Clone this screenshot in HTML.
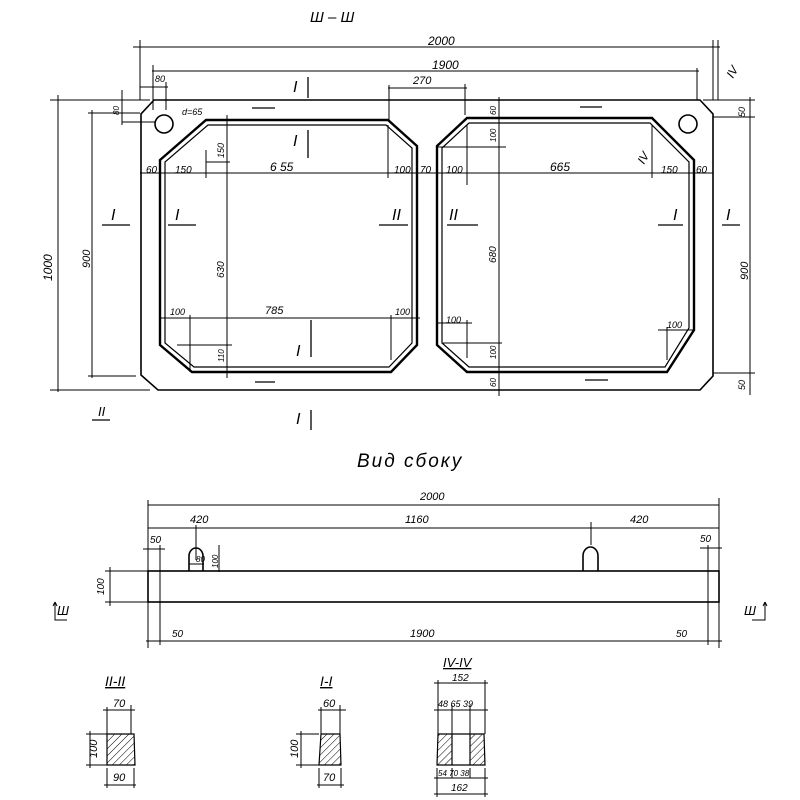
<!DOCTYPE html>
<html><head><meta charset="utf-8"><style>
html,body{margin:0;padding:0;background:#fff}
svg{display:block}
text{font-family:"Liberation Sans",sans-serif;font-style:italic;fill:#000}
</style></head><body>
<svg width="800" height="800" viewBox="0 0 800 800" xmlns="http://www.w3.org/2000/svg">
<defs>
<pattern id="h" width="5" height="5" patternUnits="userSpaceOnUse" patternTransform="rotate(45)">
<line x1="0" y1="0" x2="0" y2="5" stroke="#000" stroke-width="1"/></pattern>
</defs>
<g stroke="#000" fill="none" stroke-width="1.6">
<!-- outer plan -->
<path d="M154,100 L700,100 L713,114 L713,376 L700,390 L158,390 L141,375 L141,114 Z"/>
<!-- left window -->
<path d="M206,120 L388,120 L417,146 L417,345 L391,372 L192,372 L160,345 L160,160 Z" stroke-width="2.4"/>
<path d="M208,125 L386,125 L412,148 L412,343 L389,367 L194,367 L165,343 L165,162 Z" stroke-width="1.2"/>
<!-- right window -->
<path d="M467,118 L652,118 L694,160 L694,330 L667,372 L467,372 L437,345 L437,146 Z" stroke-width="2.4"/>
<path d="M469,123 L650,123 L689,162 L689,328 L665,367 L469,367 L442,343 L442,148 Z" stroke-width="1.2"/>
<circle cx="164" cy="124" r="9"/>
<circle cx="688" cy="124" r="9"/>
</g>
<g stroke="#000" fill="none" stroke-width="1">
<!-- top dims -->
<line x1="133" y1="47" x2="720" y2="47"/><line x1="140" y1="40" x2="140" y2="100"/><line x1="713" y1="40" x2="713" y2="100"/>
<line x1="152" y1="71" x2="699" y2="71"/><line x1="153" y1="65" x2="153" y2="110"/><line x1="697" y1="68" x2="697" y2="100"/>
<line x1="388" y1="88" x2="467" y2="88"/><line x1="389" y1="85" x2="389" y2="120"/><line x1="465" y1="84" x2="465" y2="115"/>
<line x1="140" y1="87" x2="168" y2="87"/><line x1="166" y1="82" x2="166" y2="110"/>
<!-- left dims -->
<line x1="50" y1="100" x2="150" y2="100"/><line x1="58" y1="95" x2="58" y2="392"/><line x1="50" y1="390" x2="150" y2="390"/>
<line x1="88" y1="113" x2="136" y2="113"/><line x1="92" y1="110" x2="92" y2="378"/><line x1="88" y1="376" x2="136" y2="376"/>
<line x1="122" y1="90" x2="122" y2="125"/><line x1="120" y1="113" x2="140" y2="113"/><line x1="122" y1="122" x2="155" y2="122"/>
<!-- right dims -->
<line x1="718" y1="40" x2="718" y2="100"/>
<line x1="713" y1="117" x2="755" y2="117"/><line x1="750" y1="97" x2="750" y2="395"/><line x1="713" y1="373" x2="755" y2="373"/><line x1="703" y1="100" x2="755" y2="100"/>
<!-- 173 horizontal -->
<line x1="140" y1="173" x2="713" y2="173"/>
<line x1="206" y1="150" x2="206" y2="178"/><line x1="227" y1="115" x2="227" y2="378"/><line x1="388" y1="125" x2="388" y2="178"/>
<line x1="467" y1="125" x2="467" y2="185"/><line x1="499" y1="97" x2="499" y2="396"/><line x1="652" y1="125" x2="652" y2="178"/>
<line x1="206" y1="162" x2="230" y2="162"/><line x1="438" y1="147" x2="506" y2="147"/>
<!-- 785 -->
<line x1="160" y1="318" x2="420" y2="318"/><line x1="190" y1="315" x2="190" y2="372"/><line x1="391" y1="315" x2="391" y2="360"/>
<line x1="177" y1="345" x2="232" y2="345"/>
<line x1="437" y1="323" x2="472" y2="323"/><line x1="467" y1="320" x2="467" y2="358"/><line x1="443" y1="343" x2="502" y2="343"/>
<line x1="658" y1="330" x2="695" y2="330"/><line x1="667" y1="327" x2="667" y2="360"/>
</g>
<!-- section marks -->
<g stroke="#000" stroke-width="1.3">
<line x1="102" y1="225" x2="130" y2="225"/><line x1="168" y1="225" x2="196" y2="225"/>
<line x1="379" y1="225" x2="408" y2="225"/><line x1="447" y1="225" x2="478" y2="225"/>
<line x1="658" y1="225" x2="683" y2="225"/><line x1="722" y1="225" x2="740" y2="225"/>
<line x1="308" y1="77" x2="308" y2="98"/><line x1="308" y1="130" x2="308" y2="158"/>
<line x1="311" y1="320" x2="311" y2="357"/><line x1="311" y1="410" x2="311" y2="430"/>
<line x1="252" y1="108" x2="275" y2="108"/><line x1="255" y1="382" x2="275" y2="382"/>
<line x1="580" y1="107" x2="602" y2="107"/><line x1="585" y1="380" x2="608" y2="380"/>
<line x1="92" y1="420" x2="110" y2="420"/>
</g>
<g font-size="12">
<text x="310" y="22" font-style="normal" font-family="Liberation Serif" font-size="15">Ш – Ш</text>
<text x="428" y="45">2000</text>
<text x="432" y="69">1900</text>
<text x="413" y="84" font-size="11">270</text>
<text x="155" y="82" font-size="9">80</text>
<text x="182" y="115" font-size="9">d=65</text>
<text x="146" y="173" font-size="10">60</text><text x="175" y="173" font-size="10">150</text>
<text x="270" y="171">6 55</text><text x="394" y="173" font-size="10">100</text><text x="420" y="173" font-size="10">70</text>
<text x="446" y="173" font-size="10">100</text><text x="550" y="171">665</text>
<text x="661" y="173" font-size="10">150</text><text x="696" y="173" font-size="10">60</text>
<text x="265" y="314" font-size="11">785</text>
<text x="170" y="315" font-size="9">100</text><text x="395" y="315" font-size="9">100</text>
<text x="446" y="323" font-size="9">100</text><text x="667" y="328" font-size="9">100</text>
<text x="293" y="92" font-family="Liberation Serif" font-style="normal" font-size="16">I</text>
<text x="293" y="146" font-family="Liberation Serif" font-style="normal" font-size="16">I</text>
<text x="296" y="356" font-family="Liberation Serif" font-style="normal" font-size="16">I</text>
<text x="296" y="424" font-family="Liberation Serif" font-style="normal" font-size="16">I</text>
<text x="111" y="220" font-family="Liberation Serif" font-style="normal" font-size="16">I</text>
<text x="175" y="220" font-family="Liberation Serif" font-style="normal" font-size="16">I</text>
<text x="392" y="220" font-family="Liberation Serif" font-style="normal" font-size="16">II</text>
<text x="449" y="220" font-family="Liberation Serif" font-style="normal" font-size="16">II</text>
<text x="673" y="220" font-family="Liberation Serif" font-style="normal" font-size="16">I</text>
<text x="726" y="220" font-family="Liberation Serif" font-style="normal" font-size="16">I</text>
<text x="98" y="416" font-family="Liberation Serif" font-style="normal" font-size="13">II</text>
<text transform="translate(52,265) rotate(-90)" x="-16" y="0">1000</text>
<text transform="translate(90,258) rotate(-90)" x="-10" y="0" font-size="11">900</text>
<text transform="translate(748,270) rotate(-90)" x="-10" y="0" font-size="11">900</text>
<text transform="translate(119,110) rotate(-90)" x="-5" y="0" font-size="8">80</text>
<text transform="translate(745,112) rotate(-90)" x="-5" y="0" font-size="9">50</text>
<text transform="translate(745,385) rotate(-90)" x="-5" y="0" font-size="9">50</text>
<text transform="translate(224,150) rotate(-90)" x="-8" y="0" font-size="9">150</text>
<text transform="translate(224,270) rotate(-90)" x="-8" y="0" font-size="10">630</text>
<text transform="translate(224,355) rotate(-90)" x="-7" y="0" font-size="8">110</text>
<text transform="translate(496,255) rotate(-90)" x="-8" y="0" font-size="10">680</text>
<text transform="translate(496,110) rotate(-90)" x="-5" y="0" font-size="8">60</text>
<text transform="translate(496,135) rotate(-90)" x="-7" y="0" font-size="8">100</text>
<text transform="translate(496,352) rotate(-90)" x="-7" y="0" font-size="8">100</text>
<text transform="translate(496,382) rotate(-90)" x="-5" y="0" font-size="8">60</text>
<text transform="translate(737,72) rotate(-60)" x="-8" y="0" font-family="Liberation Serif" font-style="normal" font-size="12">IV</text>
<text transform="translate(648,158) rotate(-60)" x="-8" y="0" font-family="Liberation Serif" font-style="normal" font-size="12">IV</text>
<text x="357" y="467" font-size="19" letter-spacing="2">Вид сбоку</text>
</g>
<!-- side view -->
<g stroke="#000" fill="none" stroke-width="1.6">
<rect x="148" y="571" width="571" height="31"/>
<path d="M189,571 L189,556 A7,8 0 0 1 203,556 L203,571"/>
<path d="M583,571 L583,556 A7.5,9 0 0 1 598,556 L598,571"/>
</g>
<g stroke="#000" fill="none" stroke-width="1">
<line x1="148" y1="505" x2="719" y2="505"/><line x1="148" y1="500" x2="148" y2="648"/><line x1="719" y1="498" x2="719" y2="648"/>
<line x1="148" y1="528" x2="719" y2="528"/><line x1="196" y1="525" x2="196" y2="560"/><line x1="591" y1="522" x2="591" y2="545"/>
<line x1="160" y1="545" x2="160" y2="645"/><line x1="708" y1="545" x2="708" y2="645"/>
<line x1="143" y1="549" x2="165" y2="549"/><line x1="700" y1="548" x2="722" y2="548"/>
<line x1="146" y1="641" x2="722" y2="641"/>
<line x1="105" y1="571" x2="148" y2="571"/><line x1="105" y1="602" x2="148" y2="602"/><line x1="110" y1="567" x2="110" y2="606"/>
<line x1="189" y1="564" x2="204" y2="564"/><line x1="219" y1="545" x2="219" y2="572"/>
<path d="M55,602 L55,620 L67,620 M55,602 l-2,4 M55,602 l2,4"/>
<path d="M765,602 L765,620 L752,620 M765,602 l-2,4 M765,602 l2,4"/>
</g>
<g font-size="11">
<text x="420" y="500">2000</text>
<text x="190" y="523">420</text><text x="405" y="523">1160</text><text x="630" y="523">420</text>
<text x="150" y="543" font-size="10">50</text><text x="700" y="542" font-size="10">50</text>
<text x="196" y="562" font-size="8">80</text>
<text transform="translate(218,568) rotate(-90)" x="0" y="0" font-size="8">100</text>
<text transform="translate(104,595) rotate(-90)" x="0" y="0" font-size="10">100</text>
<text x="172" y="637" font-size="10">50</text><text x="410" y="637">1900</text><text x="676" y="637" font-size="10">50</text>
<text x="57" y="615" font-family="Liberation Serif" font-style="normal" font-size="13">Ш</text>
<text x="744" y="615" font-family="Liberation Serif" font-style="normal" font-size="13">Ш</text>
</g>
<!-- sections -->
<g stroke="#000" stroke-width="1.2">
<path d="M107,734 L134,734 L135,765 L107,765 Z" fill="url(#h)"/>
<path d="M321,734 L340,734 L341,765 L319,765 Z" fill="url(#h)"/>
<path d="M438,734 L452,734 L452,765 L437,765 Z" fill="url(#h)"/>
<path d="M470,734 L484,734 L485,765 L470,765 Z" fill="url(#h)"/>
<path d="M452,734 L470,734 M452,765 L470,765" fill="none"/>
</g>
<g stroke="#000" stroke-width="1" fill="none">
<line x1="103" y1="710" x2="135" y2="710"/><line x1="107" y1="707" x2="107" y2="734"/><line x1="131" y1="705" x2="131" y2="734"/>
<line x1="86" y1="734" x2="107" y2="734"/><line x1="86" y1="765" x2="107" y2="765"/><line x1="90" y1="731" x2="90" y2="768"/>
<line x1="104" y1="785" x2="136" y2="785"/><line x1="107" y1="768" x2="107" y2="788"/><line x1="134" y1="768" x2="134" y2="788"/>
<line x1="318" y1="710" x2="346" y2="710"/><line x1="321" y1="707" x2="321" y2="734"/><line x1="340" y1="705" x2="340" y2="734"/>
<line x1="296" y1="734" x2="319" y2="734"/><line x1="296" y1="765" x2="319" y2="765"/><line x1="301" y1="731" x2="301" y2="768"/>
<line x1="319" y1="768" x2="319" y2="788"/><line x1="341" y1="768" x2="341" y2="788"/><line x1="317" y1="785" x2="344" y2="785"/>
<line x1="434" y1="683" x2="488" y2="683"/><line x1="434" y1="710" x2="488" y2="710"/>
<line x1="438" y1="680" x2="438" y2="734"/><line x1="485" y1="680" x2="485" y2="734"/><line x1="452" y1="705" x2="452" y2="734"/><line x1="470" y1="705" x2="470" y2="734"/>
<line x1="437" y1="768" x2="437" y2="797"/><line x1="485" y1="768" x2="485" y2="797"/><line x1="452" y1="768" x2="452" y2="778"/><line x1="470" y1="768" x2="470" y2="778"/>
<line x1="434" y1="778" x2="488" y2="778"/><line x1="434" y1="794" x2="488" y2="794"/>
</g>
<g font-size="11">
<text x="105" y="686" font-family="Liberation Serif" font-style="normal" font-size="14" text-decoration="underline">II-II</text>
<text x="113" y="707">70</text><text x="113" y="781">90</text>
<text transform="translate(97,758) rotate(-90)" x="0" y="0">100</text>
<text x="320" y="686" font-family="Liberation Serif" font-style="normal" font-size="14" text-decoration="underline">I-I</text>
<text x="323" y="707">60</text><text x="323" y="781">70</text>
<text transform="translate(298,758) rotate(-90)" x="0" y="0">100</text>
<text x="443" y="667" font-family="Liberation Serif" font-style="normal" font-size="13" text-decoration="underline">IV-IV</text>
<text x="452" y="681" font-size="10">152</text>
<text x="438" y="707" font-size="9">48 65 39</text>
<text x="438" y="776" font-size="8">54  70 38</text>
<text x="451" y="791" font-size="10">162</text>
</g>
</svg>
</body></html>
